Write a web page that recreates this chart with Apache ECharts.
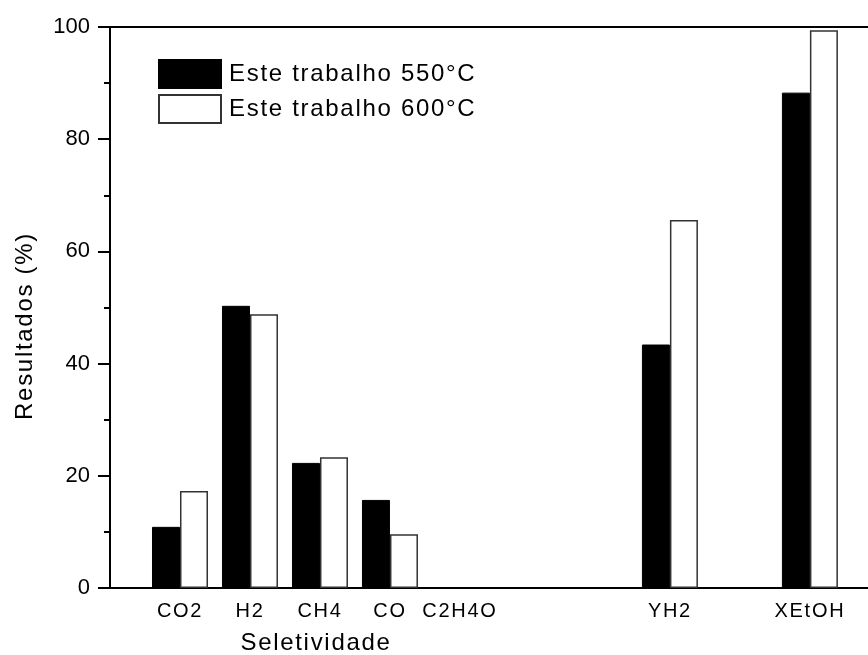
<!DOCTYPE html>
<html><head><meta charset="utf-8">
<script src="https://cdn.jsdelivr.net/npm/echarts@6/dist/echarts.min.js"></script>
<style>html,body{margin:0;padding:0;background:#fff}#c{width:868px;height:655px}</style>
</head><body><div id="c"></div>
<script>
var categories = ['CO2', 'H2', 'CH4', 'CO', 'C2H4O', 'YH2', 'XEtOH'];
var categorySlots = [1, 2, 3, 4, 5, 8, 10];
var series550 = [10.9, 50.3, 22.3, 15.7, null, 43.4, 88.3];
var series600 = [17.3, 48.8, 23.3, 9.6, null, 65.6, 99.4];
var yTicks = [0, 20, 40, 60, 80, 100];
var font = 'Liberation Sans, Arial, sans-serif';

// widen letter spacing for the (Windows-like) labels, but not the y tick digits (22px)
(function () {
  var proto = CanvasRenderingContext2D.prototype;
  var orig = proto.fillText;
  proto.fillText = function (t, x, y, m) {
    var mm = /(\d+(?:\.\d+)?)px/.exec(this.font || '');
    var fs = mm ? parseFloat(mm[1]) : 0;
    if ('letterSpacing' in this) this.letterSpacing = (fs === 22) ? '0px' : '1.7px';
    return m === undefined ? orig.call(this, t, x, y) : orig.call(this, t, x, y, m);
  };
})();

function pairs(vals) {
  return categorySlots.map(function (s, i) { return [s, vals[i]]; });
}

var chart = echarts.init(document.getElementById('c'));
chart.setOption({
  animation: false,
  backgroundColor: '#fff',
  grid: {left: 110, right: 0, top: 27, bottom: 67, show: false},
  legend: {
    orient: 'vertical', left: 158, top: 59, padding: 0, itemWidth: 62, itemHeight: 28, itemGap: 5,
    icon: 'rect',
    textStyle: {fontFamily: font, fontSize: 24, color: '#000', padding: [0, 0, 0, 3]},
    data: ['Este trabalho 550°C', 'Este trabalho 600°C']
  },
  xAxis: [{
    type: 'value', min: 0, max: 10.83, interval: 1,
    axisLine: {lineStyle: {color: '#000', width: 2}},
    axisTick: {show: false},
    axisLabel: {fontFamily: font, fontSize: 20, color: '#000', margin: 13, showMaxLabel: false,
      formatter: function (v) { var i = categorySlots.indexOf(v); return i >= 0 ? categories[i] : ''; }},
    splitLine: {show: false}
  }, {
    type: 'value', position: 'top', min: 0, max: 10.83,
    axisLine: {show: true, lineStyle: {color: '#000', width: 2}},
    axisTick: {show: false}, axisLabel: {show: false}, splitLine: {show: false}
  }],
  yAxis: {
    type: 'value', min: 0, max: 100, interval: 20,
    axisLine: {show: true, lineStyle: {color: '#000', width: 2}},
    axisTick: {show: true, length: 12, lineStyle: {color: '#000', width: 2}},
    minorTick: {show: true, splitNumber: 2, length: 6, lineStyle: {color: '#000', width: 2}},
    axisLabel: {fontFamily: font, fontSize: 22, color: '#000', margin: 20,
      formatter: function (v) { return yTicks.indexOf(v) >= 0 ? String(v) : ''; }},
    splitLine: {show: false}
  },
  graphic: [{
    type: 'text', x: 316, y: 643,
    style: {text: 'Seletividade', font: '24px ' + font, fill: '#000', textAlign: 'center', textVerticalAlign: 'middle'}
  }, {
    type: 'text', x: 25, y: 326, rotation: Math.PI / 2,
    style: {text: 'Resultados (%)', font: '24px ' + font, fill: '#000', textAlign: 'center', textVerticalAlign: 'middle'}
  }],
  series: [
    {name: 'Este trabalho 550°C', type: 'bar', xAxisIndex: 0, data: pairs(series550), barWidth: 28, barGap: '0%',
      itemStyle: {color: '#000', borderColor: '#000', borderWidth: 1}},
    {name: 'Este trabalho 600°C', type: 'bar', xAxisIndex: 0, data: pairs(series600), barWidth: 28, barGap: '0%',
      itemStyle: {color: '#fff', borderColor: '#333', borderWidth: 1.5}}
  ]
});
</script></body></html>
